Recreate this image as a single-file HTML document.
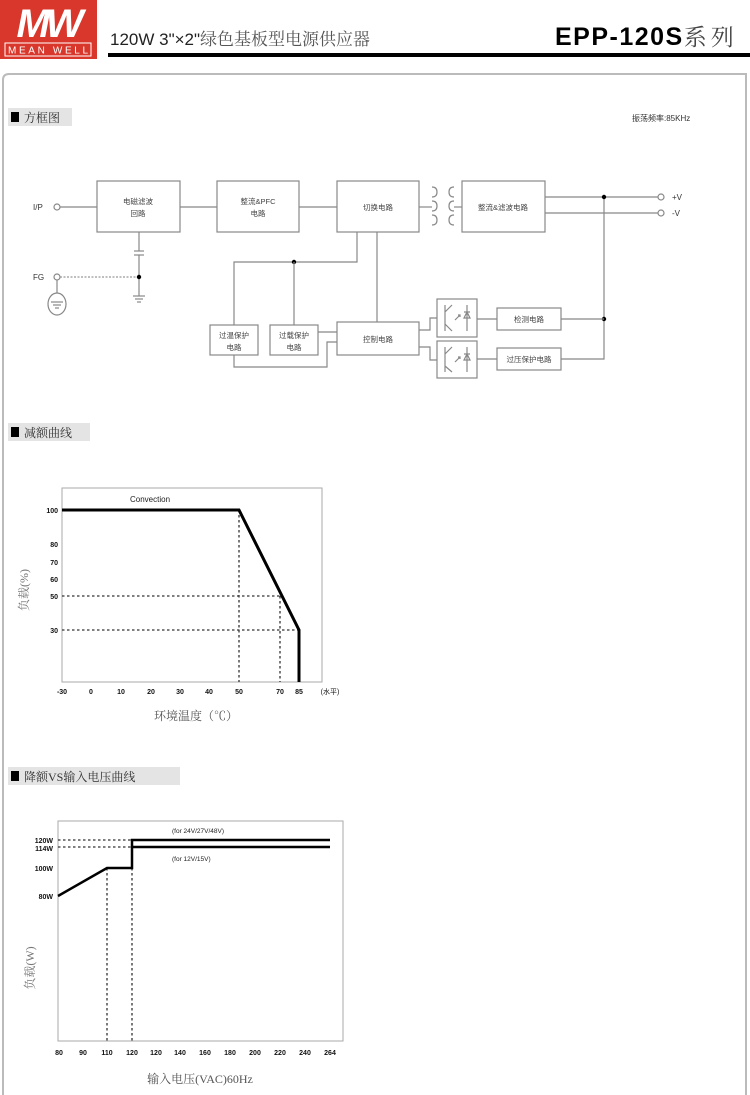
<!DOCTYPE html>
<html><head><meta charset="utf-8"><style>
html,body{margin:0;padding:0;background:#fff}
svg{display:block}
text{font-family:"Liberation Sans","Noto Sans CJK SC",sans-serif}
.cj{font-family:"Liberation Serif","Noto Serif CJK SC",serif}
.b{fill:#fff;stroke:#888;stroke-width:1.2}
.l{stroke:#888;stroke-width:1.2;fill:none}
.bt{font-size:7.5px;fill:#444;text-anchor:middle}
.t{font-size:7px;fill:#111;text-anchor:middle;font-weight:bold}
.d{stroke:#333;stroke-width:1.3;stroke-dasharray:2.5,2.5;fill:none}
</style></head><body>
<svg width="750" height="1095" viewBox="0 0 750 1095" xmlns="http://www.w3.org/2000/svg">
<!-- header -->
<rect x="0" y="0" width="97" height="59" fill="#d9372b"/>
<text x="48" y="37" font-size="40" font-style="italic" fill="#fff" text-anchor="middle" font-weight="bold" letter-spacing="-4">MW</text>
<rect x="5" y="43" width="86" height="13" fill="#d9372b" stroke="#fff" stroke-width="1"/>
<text x="48" y="53.5" font-size="10" fill="#fff" text-anchor="middle" textLength="80">MEAN WELL</text>
<text x="110" y="45" font-size="17" fill="#222">120W 3"×2"<tspan class="cj" fill="#555" font-size="17">绿色基板型电源供应器</tspan></text>
<rect x="108" y="53" width="642" height="4" fill="#000"/>
<text x="555" y="45" font-size="25" font-weight="bold" fill="#000" letter-spacing="1.5">EPP-120S<tspan class="cj" font-weight="normal" fill="#444" font-size="23" letter-spacing="4">系列</tspan></text>
<!-- frame -->
<path d="M3 1095 V80 Q3 74 9 74 H746 V1095" fill="none" stroke="#bbb" stroke-width="2"/>
<!-- section 1 -->
<rect x="8" y="108" width="64" height="18" fill="#e4e4e4"/>
<rect x="11" y="112" width="8" height="10" fill="#000"/>
<text x="24" y="122" class="cj" font-size="12" fill="#333">方框图</text>
<text x="632" y="121" font-size="8" fill="#333">振荡频率:85KHz</text>
<!-- block diagram -->
<g>
<text x="33" y="210" font-size="8" fill="#333">I/P</text>
<circle cx="57" cy="207" r="3" class="l"/>
<line x1="60" y1="207" x2="97" y2="207" class="l"/>
<rect x="97" y="181" width="83" height="51" class="b"/>
<text x="138" y="204" class="bt">电磁滤波</text><text x="138" y="216" class="bt">回路</text>
<line x1="180" y1="207" x2="217" y2="207" class="l"/>
<rect x="217" y="181" width="82" height="51" class="b"/>
<text x="258" y="204" class="bt">整流&amp;PFC</text><text x="258" y="216" class="bt">电路</text>
<line x1="299" y1="207" x2="337" y2="207" class="l"/>
<rect x="337" y="181" width="82" height="51" class="b"/>
<text x="378" y="210" class="bt">切换电路</text>
<!-- transformer -->
<path d="M432 187 q5 0 5 5 q0 5 -5 5 M432 201 q5 0 5 5 q0 5 -5 5 M432 215 q5 0 5 5 q0 5 -5 5" class="l"/>
<path d="M454 187 q-5 0 -5 5 q0 5 5 5 M454 201 q-5 0 -5 5 q0 5 5 5 M454 215 q-5 0 -5 5 q0 5 5 5" class="l"/>
<line x1="419" y1="207" x2="432" y2="207" class="l"/><line x1="454" y1="207" x2="462" y2="207" class="l"/>
<rect x="462" y="181" width="83" height="51" class="b"/>
<text x="503" y="210" class="bt">整流&amp;滤波电路</text>
<line x1="545" y1="197" x2="658" y2="197" class="l"/>
<line x1="545" y1="213" x2="658" y2="213" class="l"/>
<circle cx="661" cy="197" r="3" class="l"/><circle cx="661" cy="213" r="3" class="l"/>
<text x="672" y="200" font-size="8" fill="#333">+V</text><text x="672" y="216" font-size="8" fill="#333">-V</text>
<line x1="604" y1="197" x2="604" y2="356" class="l"/>
<circle cx="604" cy="197" r="2.2" fill="#000"/><circle cx="604" cy="319" r="2.2" fill="#000"/>
<!-- FG -->
<line x1="139" y1="232" x2="139" y2="251" class="l"/>
<line x1="134" y1="251" x2="144" y2="251" class="l"/><line x1="134" y1="255" x2="144" y2="255" class="l"/>
<line x1="139" y1="255" x2="139" y2="296" class="l"/>
<line x1="133" y1="296" x2="145" y2="296" class="l"/><line x1="135" y1="299" x2="143" y2="299" class="l"/><line x1="137" y1="302" x2="141" y2="302" class="l"/>
<text x="33" y="280" font-size="8" fill="#333">FG</text>
<circle cx="57" cy="277" r="3" class="l"/>
<line x1="60" y1="277" x2="139" y2="277" stroke="#999" stroke-width="1.2" stroke-dasharray="2,1.5"/>
<circle cx="139" cy="277" r="2.2" fill="#000"/>
<line x1="57" y1="280" x2="57" y2="293" class="l"/>
<ellipse cx="57" cy="304" rx="9" ry="11" class="l"/>
<line x1="51" y1="302" x2="63" y2="302" class="l"/><line x1="53" y1="305" x2="61" y2="305" class="l"/><line x1="55" y1="308" x2="59" y2="308" class="l"/>
<!-- feedback -->
<path d="M357 232 V262 H234 V325" class="l"/>
<circle cx="294" cy="262" r="2.2" fill="#000"/>
<line x1="294" y1="262" x2="294" y2="325" class="l"/>
<line x1="377" y1="322" x2="377" y2="232" class="l"/>
<rect x="210" y="325" width="48" height="30" class="b"/>
<text x="234" y="338" class="bt">过温保护</text><text x="234" y="350" class="bt">电路</text>
<rect x="270" y="325" width="48" height="30" class="b"/>
<text x="294" y="338" class="bt">过载保护</text><text x="294" y="350" class="bt">电路</text>
<line x1="318" y1="332" x2="337" y2="332" class="l"/>
<path d="M234 355 V367 H327 V342 H337" class="l"/>
<rect x="337" y="322" width="82" height="33" class="b"/>
<text x="378" y="342" class="bt">控制电路</text>
<path d="M419 330 H430 V318 H437" class="l"/>
<path d="M419 347 H430 V360 H437" class="l"/>
<rect x="437" y="299" width="40" height="38" class="b"/>
<rect x="437" y="341" width="40" height="37" class="b"/>
<g class="l">
<path d="M445 305 V331 M445 312 L452 305 M445 324 L452 331"/><path d="M455 320 l5 -5 M458 315 h2 v2"/><path d="M467 312 l-3 6 h6 z M464 312 h6 M467 305 V331"/>
<path d="M445 347 V372 M445 354 L452 347 M445 366 L452 372"/><path d="M455 362 l5 -5 M458 357 h2 v2"/><path d="M467 354 l-3 6 h6 z M464 354 h6 M467 347 V372"/>
</g>
<line x1="477" y1="319" x2="497" y2="319" class="l"/>
<line x1="477" y1="359" x2="497" y2="359" class="l"/>
<rect x="497" y="308" width="64" height="22" class="b"/>
<text x="529" y="322" class="bt">检测电路</text>
<rect x="497" y="348" width="64" height="22" class="b"/>
<text x="529" y="362" class="bt">过压保护电路</text>
<line x1="561" y1="319" x2="604" y2="319" class="l"/>
<path d="M561 359 H604 V356" class="l"/>
</g>
<!-- section 2 -->
<rect x="8" y="423" width="82" height="18" fill="#e4e4e4"/>
<rect x="11" y="427" width="8" height="10" fill="#000"/>
<text x="24" y="437" class="cj" font-size="12" fill="#333">减额曲线</text>
<rect x="62" y="488" width="260" height="194" fill="none" stroke="#aaa" stroke-width="1"/>
<g class="d">
<line x1="239" y1="510" x2="239" y2="682"/><line x1="280" y1="596" x2="280" y2="682"/>
<line x1="62" y1="596" x2="280" y2="596"/><line x1="62" y1="630" x2="299" y2="630"/>
</g>
<polyline points="62,510 239,510 299,630 299,682" fill="none" stroke="#000" stroke-width="3"/>
<text x="130" y="502" font-size="8" fill="#222">Convection</text>
<g font-size="7" fill="#111" font-weight="bold" text-anchor="end">
<text x="58" y="513">100</text><text x="58" y="547">80</text><text x="58" y="565">70</text><text x="58" y="582">60</text><text x="58" y="599">50</text><text x="58" y="633">30</text>
</g>
<g class="t">
<text x="62" y="694">-30</text><text x="91" y="694">0</text><text x="121" y="694">10</text><text x="151" y="694">20</text><text x="180" y="694">30</text><text x="209" y="694">40</text><text x="239" y="694">50</text><text x="280" y="694">70</text><text x="299" y="694">85</text><text x="330" y="694" font-weight="normal">(水平)</text>
</g>
<text x="196" y="720" class="cj" font-size="12" fill="#555" text-anchor="middle">环境温度（℃）</text>
<text transform="translate(28,590) rotate(-90)" class="cj" font-size="12" fill="#777" text-anchor="middle">负载(%)</text>
<!-- section 3 -->
<rect x="8" y="767" width="172" height="18" fill="#e4e4e4"/>
<rect x="11" y="771" width="8" height="10" fill="#000"/>
<text x="24" y="781" class="cj" font-size="12" fill="#333">降额VS输入电压曲线</text>
<rect x="58" y="821" width="285" height="220" fill="none" stroke="#aaa" stroke-width="1"/>
<g class="d">
<line x1="58" y1="840" x2="132" y2="840"/><line x1="58" y1="847" x2="132" y2="847"/>
<line x1="107" y1="868" x2="107" y2="1041"/><line x1="132" y1="868" x2="132" y2="1041"/>
</g>
<polyline points="58,896 107,868 132,868 132,840 330,840" fill="none" stroke="#000" stroke-width="2.5"/>
<line x1="132" y1="847" x2="330" y2="847" stroke="#000" stroke-width="2.5"/>
<text x="172" y="833" font-size="6.5" fill="#222">(for 24V/27V/48V)</text>
<text x="172" y="861" font-size="6.5" fill="#222">(for 12V/15V)</text>
<g font-size="7" fill="#111" font-weight="bold" text-anchor="end">
<text x="53" y="843">120W</text><text x="53" y="851">114W</text><text x="53" y="871">100W</text><text x="53" y="899">80W</text>
</g>
<g class="t">
<text x="59" y="1055">80</text><text x="83" y="1055">90</text><text x="107" y="1055">110</text><text x="132" y="1055">120</text><text x="156" y="1055">120</text><text x="180" y="1055">140</text><text x="205" y="1055">160</text><text x="230" y="1055">180</text><text x="255" y="1055">200</text><text x="280" y="1055">220</text><text x="305" y="1055">240</text><text x="330" y="1055">264</text>
</g>
<text x="200" y="1083" class="cj" font-size="12" fill="#555" text-anchor="middle">输入电压(VAC)60Hz</text>
<text transform="translate(34,968) rotate(-90)" class="cj" font-size="12" fill="#777" text-anchor="middle">负载(W)</text>
</svg>
</body></html>
